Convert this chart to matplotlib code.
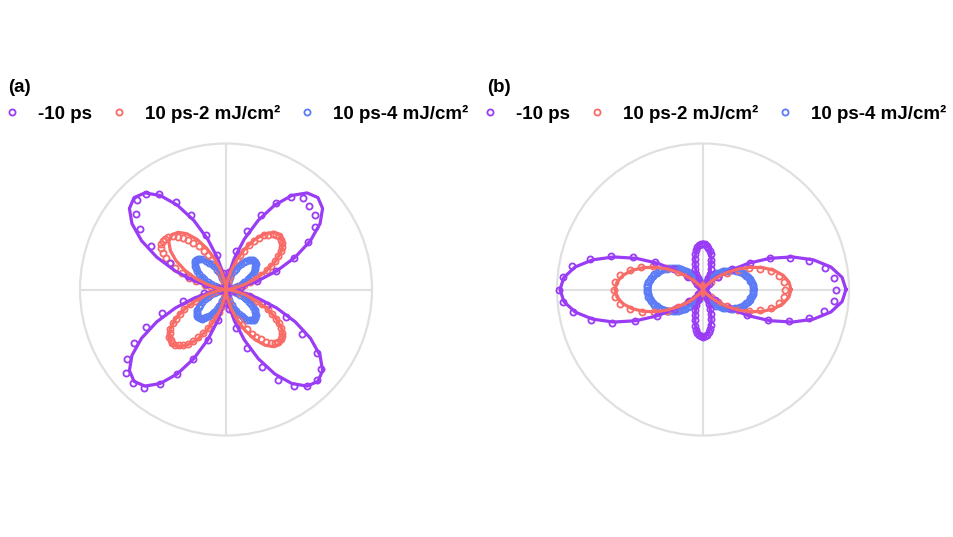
import numpy as np
import matplotlib
matplotlib.use('Agg')
import matplotlib.pyplot as plt
from matplotlib.lines import Line2D
from matplotlib.font_manager import FontProperties

# ---------------- data ----------------
angles_5 = np.arange(0, 360, 5)            # 5 deg measurement grid
angles_2p5 = np.arange(0, 360, 2.5)        # 2.5 deg measurement grid
# panel (b) -10 ps: 5 deg steps, 2.5 deg steps around the minor lobes
angles_b_purple = np.concatenate([np.arange(0, 47.5, 5), np.arange(47.5, 135, 2.5),
                                  np.arange(135, 227.5, 5), np.arange(227.5, 315, 2.5),
                                  np.arange(315, 360, 5)])
labels = ['-10 ps', '10 ps-2 mJ/cm²', '10 ps-4 mJ/cm²']
colors = ['#9a3cf5', '#f86b66', '#5b7cf6']
panel_titles = ['(a)', '(b)']
R_MAX = 146

# panel (a): measured intensities
a_purple = [0, 4, 15, 32, 53, 75, 95, 109, 116, 118, 120, 113, 100, 82, 62, 40, 18, 5,
            0, 5, 17, 36, 58, 82, 101, 116, 125, 126, 117, 105, 87, 62, 40, 21, 8, 2,
            0, 6, 22, 45, 68, 88, 106, 121, 130, 132, 128, 115, 98, 77, 54, 32, 14, 4,
            0, 6, 20, 40, 62, 86, 104, 118, 126, 128, 124, 111, 88, 66, 44, 24, 9, 2]
a_red = [0, 1, 3, 5, 9, 14, 19, 25, 32, 38, 45, 51, 57, 62, 67, 70, 73, 74,
         75, 74, 73, 69, 66, 61, 56, 50, 43, 37, 31, 25, 19, 13, 9, 5, 2, 1,
         0, 0, 1, 3, 5, 8, 12, 16, 21, 27, 33, 39, 45, 51, 57, 62, 67, 71,
         75, 78, 79, 80, 79, 77, 73, 68, 62, 55, 47, 39, 31, 22, 15, 8, 4, 1,
         0, 1, 3, 6, 10, 15, 20, 26, 33, 39, 46, 52, 58, 63, 68, 71, 74, 75,
         76, 75, 73, 70, 66, 61, 55, 49, 43, 36, 30, 24, 18, 13, 8, 5, 2, 1,
         0, 0, 2, 4, 7, 11, 16, 21, 27, 33, 39, 45, 51, 56, 61, 66, 70, 72,
         74, 74, 73, 71, 67, 63, 58, 52, 46, 39, 33, 26, 20, 14, 9, 5, 2, 1]
a_blue = [0, 0, 1, 3, 5, 7, 10, 13, 17, 20, 24, 27, 30, 33, 35, 37, 39, 40,
          40, 40, 39, 37, 35, 33, 30, 27, 23, 20, 16, 13, 10, 7, 5, 3, 1, 0,
          0, 0, 1, 2, 4, 6, 9, 12, 15, 19, 22, 26, 29, 32, 35, 38, 40, 41,
          42, 42, 41, 39, 37, 34, 31, 27, 24, 20, 16, 12, 9, 6, 4, 2, 1, 0,
          0, 0, 1, 3, 5, 7, 10, 13, 17, 20, 23, 27, 30, 32, 35, 37, 38, 39,
          39, 39, 38, 36, 34, 31, 28, 25, 22, 18, 15, 12, 9, 6, 4, 2, 1, 0,
          0, 0, 1, 3, 5, 8, 11, 14, 17, 21, 24, 28, 31, 34, 37, 39, 40, 41,
          41, 40, 39, 37, 35, 32, 29, 26, 22, 19, 15, 12, 9, 6, 4, 2, 1, 0]
# panel (a): fitted curves (5 deg grid)
a_purple_fit = [0, 3.9, 15.2, 32.5, 53.7, 76.3, 97.5, 114.8, 126.1, 130.0,
                126.1, 114.8, 97.5, 76.3, 53.7, 32.5, 15.2, 3.9] * 4
a_red_fit = [0, 2.3, 9.0, 19.3, 31.8, 45.2, 57.8, 68.0, 74.7, 77.0,
             74.7, 68.0, 57.8, 45.2, 31.8, 19.3, 9.0, 2.3] * 4
a_blue_fit = [0, 1.2, 4.8, 10.3, 16.9, 24.1, 30.8, 36.2, 39.8, 41.0,
              39.8, 36.2, 30.8, 24.1, 16.9, 10.3, 4.8, 1.2] * 4

# panel (b): measured intensities
b_purple = [133, 131, 124, 110, 93, 74, 54, 35, 19, 8,
            4, 2, 1, 1, 2, 5, 8, 13, 17, 22, 27, 31, 36, 39, 42, 44, 46, 46,
            46, 45, 43, 40, 36, 32, 27, 22, 17, 13, 9, 5, 3, 1, 1, 2, 4,
            8, 19, 35, 55, 77, 98, 117, 133, 141, 144, 141, 132, 116, 97, 75, 53, 34, 18, 7,
            3, 1, 0, 1, 3, 5, 8, 12, 17, 22, 27, 32, 37, 41, 44, 46, 47, 47,
            47, 46, 43, 40, 36, 31, 26, 21, 16, 12, 8, 4, 2, 0, 1, 1, 3,
            6, 16, 32, 51, 72, 92, 110, 123, 131]
b_red = [82, 81, 77, 70, 61, 51, 40, 29, 19, 11, 5, 2, 0, 0, 1, 3, 4, 5,
         6, 5, 4, 3, 1, 0, 0, 2, 6, 12, 21, 31, 43, 55, 66, 76, 84, 88,
         89, 88, 84, 76, 65, 54, 42, 30, 20, 12, 6, 2, 0, 0, 1, 3, 5, 6,
         6, 6, 5, 3, 1, 0, 0, 2, 5, 11, 19, 29, 40, 51, 61, 70, 77, 81]
b_blue = [50, 50, 50, 49, 48, 48, 47, 45, 44, 43, 41, 39, 38, 36, 34, 31, 29, 27,
          25, 23, 21, 19, 16, 14, 12, 11, 9, 7, 6, 5, 3, 2, 2, 1, 0, 0,
          0, 0, 0, 1, 2, 3, 4, 5, 7, 8, 10, 12, 14, 16, 18, 21, 23, 25,
          28, 30, 33, 35, 38, 40, 42, 44, 46, 48, 49, 51, 52, 53, 54, 55, 56, 56,
          56, 56, 55, 55, 54, 53, 52, 51, 49, 48, 46, 44, 42, 40, 37, 35, 33, 30,
          28, 26, 23, 21, 18, 16, 14, 12, 10, 8, 7, 5, 4, 3, 2, 1, 0, 0,
          0, 0, 0, 1, 2, 2, 3, 4, 6, 7, 9, 11, 12, 14, 16, 18, 21, 23,
          25, 27, 29, 31, 34, 36, 37, 39, 41, 43, 44, 45, 47, 48, 48, 49, 50, 50]
# panel (b): fitted curves (5 deg grid)
b_purple_fit = [143.0, 139.6, 129.8, 114.4, 95.2, 73.8, 52.5, 33.2, 17.4, 6.4, 0.8, 0.5,
                4.7, 12.4, 21.9, 31.7, 40.0, 45.5, 47.5, 45.5, 40.0, 31.7, 21.9, 12.4,
                4.7, 0.5, 0.8, 6.4, 17.4, 33.2, 52.5, 73.8, 95.2, 114.4, 129.8, 139.6] * 2
b_red_fit = [88.0, 86.3, 81.4, 73.7, 63.8, 52.7, 41.1, 29.9, 20.0, 11.8, 5.8, 2.0,
             0.2, 0.1, 1.2, 2.9, 4.6, 5.8, 6.3, 5.8, 4.6, 2.9, 1.2, 0.1,
             0.2, 2.0, 5.8, 11.8, 20.0, 29.9, 41.1, 52.7, 63.8, 73.7, 81.4, 86.3] * 2
b_blue_fit = [53.0, 52.6, 51.4, 49.4, 46.8, 43.5, 39.8, 35.6, 31.1, 26.5, 21.9, 17.4,
              13.3, 9.5, 6.2, 3.6, 1.6, 0.4, 0.0, 0.4, 1.6, 3.6, 6.2, 9.5,
              13.3, 17.4, 21.9, 26.5, 31.1, 35.6, 39.8, 43.5, 46.8, 49.4, 51.4, 52.6] * 2

panels = [
    ([(angles_5, a_purple), (angles_2p5, a_red), (angles_2p5, a_blue)],
     [a_purple_fit, a_red_fit, a_blue_fit]),
    ([(angles_b_purple, b_purple), (angles_5, b_red), (angles_2p5, b_blue)],
     [b_purple_fit, b_red_fit, b_blue_fit]),
]

# ---------------- figure ----------------
W, H = 954, 537
fig = plt.figure(figsize=(W / 100, H / 100), dpi=100)
fig.patch.set_facecolor('white')

GRID = '#e0e0e0'
font_bold = FontProperties(family='Liberation Sans', weight='bold', size=13.5)
MS, MEW = 4.4, 1.3

centers = [(226, 289.5), (703, 289.5)]
legend_x = [2.6, 480.6]
title_x = [8, 487]

fit_theta = np.deg2rad(np.append(angles_5, 360))

for (cx, cy), (datas, fits), lx, tx, ttl in zip(centers, panels, legend_x, title_x, panel_titles):
    ax = fig.add_axes([(cx - R_MAX) / W, (H - cy - R_MAX) / H, 2 * R_MAX / W, 2 * R_MAX / H],
                      projection='polar')
    ax.set_facecolor('none')
    ax.set_ylim(0, R_MAX)
    ax.set_yticks([])
    ax.set_xticks(np.deg2rad([0, 90, 180, 270]))
    ax.set_xticklabels([])
    ax.set_xticks(np.deg2rad([45, 135, 225, 315]), minor=True)
    ax.xaxis.grid(True, which='major', color=GRID, lw=1.5)
    ax.yaxis.grid(False)
    ax.tick_params(axis='x', which='both', direction='in', length=4, width=1.2,
                   color=GRID, pad=0)
    ax.spines['polar'].set_color(GRID)
    ax.spines['polar'].set_linewidth(1.6)
    ax.set_axisbelow(True)

    # markers: blue, red, purple
    for i, z in zip([2, 1, 0], [3, 4, 5]):
        ang, vals = datas[i]
        ax.plot(np.deg2rad(ang), vals, ls='none', marker='o', ms=MS, mfc='none',
                mec=colors[i], mew=MEW, zorder=z, clip_on=False)
    # fitted lines: blue, purple, red
    for i, z in zip([2, 0, 1], [6, 7, 8]):
        ax.plot(fit_theta, np.append(fits[i], fits[i][0]), color=colors[i],
                lw=2.3, zorder=z, clip_on=False)

    fig.text(tx / W, 1 - 88 / H, ttl, fontproperties=font_bold, ha='left', va='center')

    handles = [Line2D([], [], ls='none', marker='o', ms=MS, mfc='none', mec=c, mew=MEW)
               for c in colors]
    fig.legend(handles, labels, ncol=3, loc='center left',
               bbox_to_anchor=(lx / W, 1 - 114 / H), frameon=False,
               handlelength=1.0, handletextpad=0.89, columnspacing=0.94,
               borderpad=0, borderaxespad=0, prop=font_bold)

fig.savefig('out.png', dpi=100, facecolor='white')
